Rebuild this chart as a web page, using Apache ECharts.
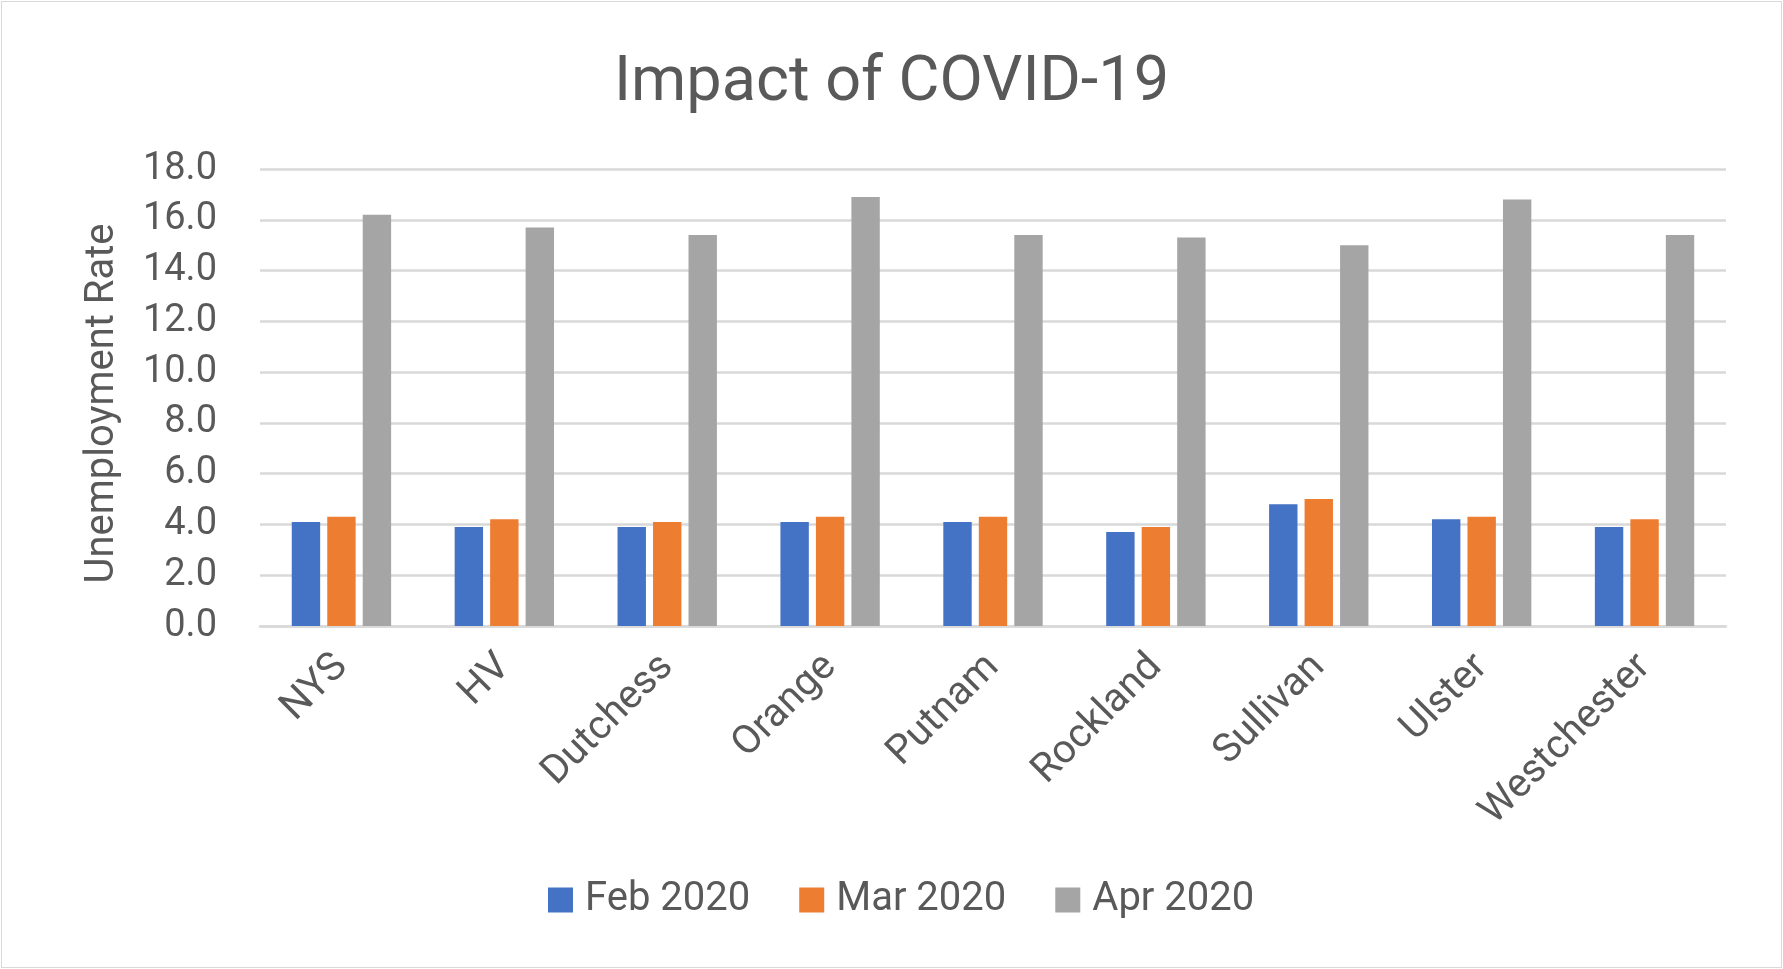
<!DOCTYPE html>
<html>
<head>
<meta charset="UTF-8">
<title>Impact of COVID-19</title>
<script src="https://cdn.jsdelivr.net/npm/echarts@6/dist/echarts.min.js"></script>
<style>
  html, body { margin: 0; padding: 0; background: #fff; }
  #chart { width: 1779px; height: 965px; margin: 1px; border: 1px solid #d9d9d9; }
</style>
</head>
<body>
<div id="chart"></div>
<script>
// counties / regions on the x axis
var categories = ['NYS', 'HV', 'Dutchess', 'Orange', 'Putnam', 'Rockland', 'Sullivan', 'Ulster', 'Westchester'];
// unemployment rate (%) per month
var feb2020 = [4.1, 3.9, 3.9, 4.1, 4.1, 3.7, 4.8, 4.2, 3.9];
var mar2020 = [4.3, 4.2, 4.1, 4.3, 4.3, 3.9, 5.0, 4.3, 4.2];
var apr2020 = [16.2, 15.7, 15.4, 16.9, 15.4, 15.3, 15.0, 16.8, 15.4];
var seriesNames = ['Feb 2020', 'Mar 2020', 'Apr 2020'];

var font = 'Roboto';
var textColor = '#595959';
var gridColor = '#d9d9d9';

var myChart = echarts.init(document.getElementById('chart'));
var option = {
  animation: false,
  color: ['#4472c4', '#ed7d31', '#a5a5a5'],
  title: {
    text: 'Impact of COVID-19',
    left: 'center',
    top: 46,
    textStyle: { fontFamily: font, fontSize: 63, fontWeight: 'normal', color: textColor }
  },
  legend: {
    data: seriesNames,
    bottom: 47,
    left: 546,
    padding: 0,
    icon: 'rect',
    itemWidth: 25,
    itemHeight: 25,
    itemGap: 49,
    textStyle: { fontFamily: font, fontSize: 40, color: textColor, padding: [0, 0, 0, 7] }
  },
  grid: { left: 258, right: 55, top: 167, bottom: 341, containLabel: false },
  xAxis: {
    type: 'category',
    data: categories,
    axisLine: { lineStyle: { color: gridColor, width: 2.5 } },
    axisTick: { show: false },
    axisLabel: { rotate: 45, margin: 35, fontFamily: font, fontSize: 40, color: textColor }
  },
  yAxis: {
    type: 'value',
    name: 'Unemployment Rate',
    nameLocation: 'middle',
    nameGap: 137,
    nameTextStyle: { fontFamily: font, fontSize: 40, color: textColor, padding: [0, 12, 0, 0] },
    min: 0,
    max: 18,
    interval: 2,
    axisLine: { show: false },
    axisTick: { show: false },
    axisLabel: {
      margin: 43,
      fontFamily: font,
      fontSize: 38,
      color: textColor,
      formatter: function (v) { return v.toFixed(1); }
    },
    splitLine: { lineStyle: { color: gridColor, width: 2.5 } }
  },
  series: [
    { name: seriesNames[0], type: 'bar', data: feb2020, barGap: '25%', barCategoryGap: '39%' },
    { name: seriesNames[1], type: 'bar', data: mar2020, barGap: '25%', barCategoryGap: '39%' },
    { name: seriesNames[2], type: 'bar', data: apr2020, barGap: '25%', barCategoryGap: '39%' }
  ]
};
myChart.setOption(option);
window.addEventListener('resize', function () { myChart.resize(); });
</script>
</body>
</html>
